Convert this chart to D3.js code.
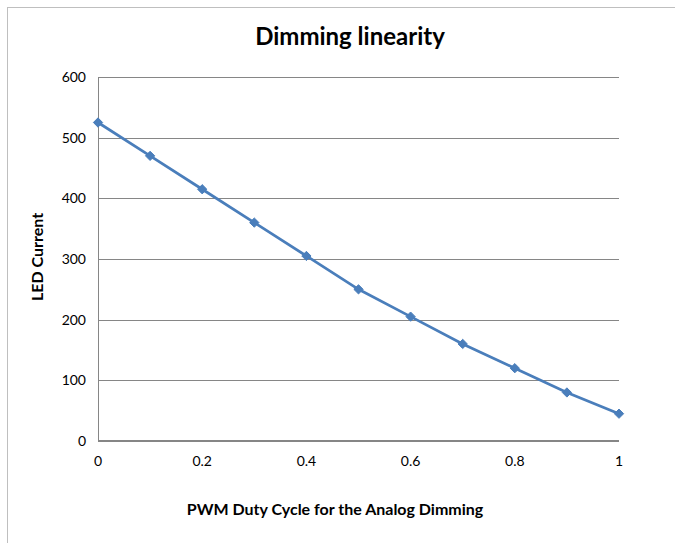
<!DOCTYPE html>
<html>
<head>
<meta charset="utf-8">
<script src="https://cdn.jsdelivr.net/npm/d3@7"></script>
<style>
  body { margin: 0; background: #fff; }
  text { font-family: Lato, "Open Sans", sans-serif; fill: #000; }
</style>
</head>
<body>
<svg id="chart" width="675" height="543"></svg>
<script>
let dutyCycle = [0, 0.1, 0.2, 0.3, 0.4, 0.5, 0.6, 0.7, 0.8, 0.9, 1];
let ledCurrent = [525, 470, 415, 360, 305, 250, 205, 160, 120, 80, 45];
let xTicks = [0, 0.2, 0.4, 0.6, 0.8, 1];
let yTicks = [0, 100, 200, 300, 400, 500, 600];

const svg = d3.select("#chart");

// outer chart frame (runs off the right and bottom of the picture)
svg.append("rect")
    .attr("x", 7.5).attr("y", 7.5)
    .attr("width", 700).attr("height", 600)
    .attr("fill", "none")
    .attr("stroke", "#bfbfbf");

let x = d3.scaleLinear().domain([0, 1]).range([98, 619]);
let y = d3.scaleLinear().domain([0, 600]).range([441, 77]);

// gridlines
svg.append("g")
    .selectAll("line")
    .data(yTicks.filter(d => d > 0))
    .enter().append("line")
    .attr("x1", x(0)).attr("x2", x(1))
    .attr("y1", d => Math.round(y(d)) + 0.5)
    .attr("y2", d => Math.round(y(d)) + 0.5)
    .attr("stroke", "#868686");

// left axis line
svg.append("line")
    .attr("x1", x(0) + 0.5).attr("x2", x(0) + 0.5)
    .attr("y1", y(600)).attr("y2", y(0))
    .attr("stroke", "#868686");

// bottom axis line
svg.append("line")
    .attr("x1", x(0)).attr("x2", x(1))
    .attr("y1", y(0)).attr("y2", y(0))
    .attr("stroke", "#868686")
    .attr("stroke-width", 2);

// tick labels
svg.append("g")
    .selectAll("text")
    .data(yTicks)
    .enter().append("text")
    .attr("x", x(0) - 12)
    .attr("y", d => y(d) + 5)
    .attr("text-anchor", "end")
    .attr("font-size", 14)
    .text(d => d);

svg.append("g")
    .selectAll("text")
    .data(xTicks)
    .enter().append("text")
    .attr("x", d => x(d))
    .attr("y", y(0) + 25)
    .attr("text-anchor", "middle")
    .attr("font-size", 14)
    .text(d => d);

// series line
let pts = dutyCycle.map((d, i) => [d, ledCurrent[i]]);
svg.append("path")
    .datum(pts)
    .attr("fill", "none")
    .attr("stroke", "#4a7ebb")
    .attr("stroke-width", 2.75)
    .attr("d", d3.line().x(d => x(d[0])).y(d => y(d[1])));

svg.append("g")
    .selectAll("path")
    .data(pts)
    .enter().append("path")
    .attr("transform", d => "translate(" + x(d[0]) + "," + y(d[1]) + ")")
    .attr("d", d3.symbol().type(d3.symbolDiamond2).size(55))
    .attr("fill", "#4a7ebb")
    .attr("stroke", "#4a7ebb");

// titles
svg.append("text")
    .attr("x", 350).attr("y", 45)
    .attr("text-anchor", "middle")
    .attr("font-size", 24)
    .attr("font-weight", "bold")
    .text("Dimming linearity");

svg.append("text")
    .attr("x", 335).attr("y", 515)
    .attr("text-anchor", "middle")
    .attr("font-size", 16)
    .attr("font-weight", "bold")
    .text("PWM Duty Cycle for the Analog Dimming");

svg.append("text")
    .attr("transform", "translate(43,257) rotate(-90)")
    .attr("text-anchor", "middle")
    .attr("font-size", 16)
    .attr("font-weight", "bold")
    .text("LED Current");
</script>
</body>
</html>
